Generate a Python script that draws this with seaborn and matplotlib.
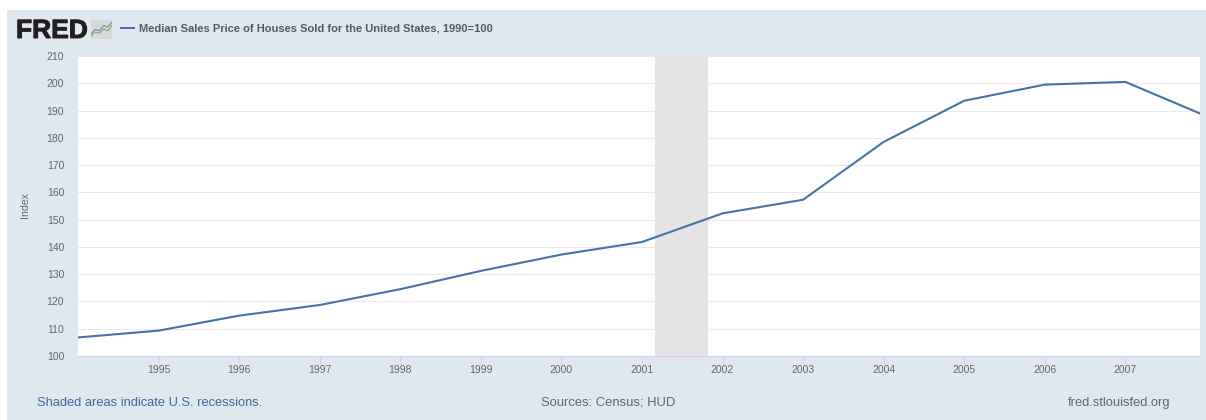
import pandas as pd
import seaborn as sns
import matplotlib.pyplot as plt
import matplotlib.patheffects as pe
from matplotlib.patches import Rectangle

years = [1994, 1995, 1996, 1997, 1998, 1999, 2000, 2001, 2002, 2003, 2004, 2005, 2006, 2007, 2008]
index_values = [106.8, 109.3, 114.8, 118.7, 124.5, 131.2, 137.2, 141.8, 152.3, 157.3, 178.5, 193.6, 199.5, 200.5, 188.0]
y_ticks = list(range(100, 211, 10))
x_ticks = list(range(1995, 2008))
recession = (2001.16, 2001.82)

# little chart icon next to the logo
icon_x = [0, 1, 2, 3, 4, 5]
icon_green = [1.0, 2.2, 1.8, 3.2, 2.6, 4.4]
icon_blue = [1.6, 3.0, 2.6, 4.2, 3.8, 5.4]

W, H = 1206, 420
BG = "#dfe7ef"
LINE = "#4572a7"
GREY = "#666666"
AXIS = "#ccd6eb"

df = pd.DataFrame({"year": years, "index": index_values})

sns.set_style("white")
plt.rcParams["font.family"] = ["Liberation Sans", "DejaVu Sans"]

fig = plt.figure(figsize=(W / 100, H / 100), dpi=100, facecolor="white")
fig.add_artist(Rectangle((7 / W, 0), 1 - 7 / W, 1 - 10 / H, transform=fig.transFigure, color=BG, lw=0, zorder=-5))

ax = fig.add_axes([78 / W, 1 - 356 / H, (1199.5 - 78) / W, (356 - 56) / H], facecolor="white")
ax.axvspan(recession[0], recession[1], color="#e4e4e4", lw=0, zorder=1)
sns.lineplot(x="year", y="index", data=df, color=LINE, linewidth=1.5, ax=ax, zorder=3)

ax.set_xlim(1994.0, 2007.92)
ax.set_ylim(100, 210)
ax.set_xticks(x_ticks)
ax.set_yticks(y_ticks)
ax.set_xlabel("")
ax.set_ylabel("")
ax.grid(axis="y", color="#e9e9e9", linewidth=0.7)
ax.set_axisbelow(True)
for side in ["top", "left", "right"]:
    ax.spines[side].set_visible(False)
ax.spines["bottom"].set_color(AXIS)
ax.spines["bottom"].set_linewidth(0.8)
ax.tick_params(axis="x", bottom=True, length=5.5, width=0.8, color=AXIS, labelsize=7.5, labelcolor=GREY, pad=1)
ax.tick_params(axis="y", left=False, labelsize=7.5, labelcolor=GREY, pad=6.5)

fig.text(25 / W, 1 - 205 / H, "Index", rotation=90, fontsize=7.6, color=GREY, ha="center", va="center")

# header
fig.text(16 / W, 1 - 38 / H, "FRED", fontsize=19, fontweight="bold", color="#231f20", ha="left", va="baseline",
         path_effects=[pe.withStroke(linewidth=0.7, foreground="#231f20")])
fig.text(139 / W, 1 - 31.5 / H, "Median Sales Price of Houses Sold for the United States, 1990=100",
         fontsize=8.0, fontweight="bold", color="#555b62", ha="left", va="baseline")

key = fig.add_axes([120 / W, 1 - 29 / H, 15 / W, 2 / H])
key.axis("off")
key.add_patch(Rectangle((0, 0), 1, 1, transform=key.transAxes, color=LINE, lw=0))

icon = fig.add_axes([91 / W, 1 - 39 / H, 21 / W, 19 / H], facecolor="#d5d9da")
sns.lineplot(x=icon_x, y=icon_green, color="#7da05a", linewidth=0.7, ax=icon)
sns.lineplot(x=icon_x, y=icon_blue, color="#5b83ad", linewidth=0.7, ax=icon)
icon.set_xticks([])
icon.set_yticks([])
icon.set_xlim(0, 5)
icon.set_ylim(0, 6)
icon.set_xlabel("")
icon.set_ylabel("")
sns.despine(ax=icon, left=True, bottom=True, top=True, right=True)

# footer
fig.text(37 / W, 1 - 406 / H, "Shaded areas indicate U.S. recessions.", fontsize=9.28, color="#3e6a9f", ha="left", va="baseline")
fig.text(541 / W, 1 - 405.4 / H, "Sources: Census; HUD", fontsize=9.4, color=GREY, ha="left", va="baseline")
fig.text(1170.5 / W, 1 - 406 / H, "fred.stlouisfed.org", fontsize=9.3, color=GREY, ha="right", va="baseline")

plt.savefig("out.png", dpi=100)
